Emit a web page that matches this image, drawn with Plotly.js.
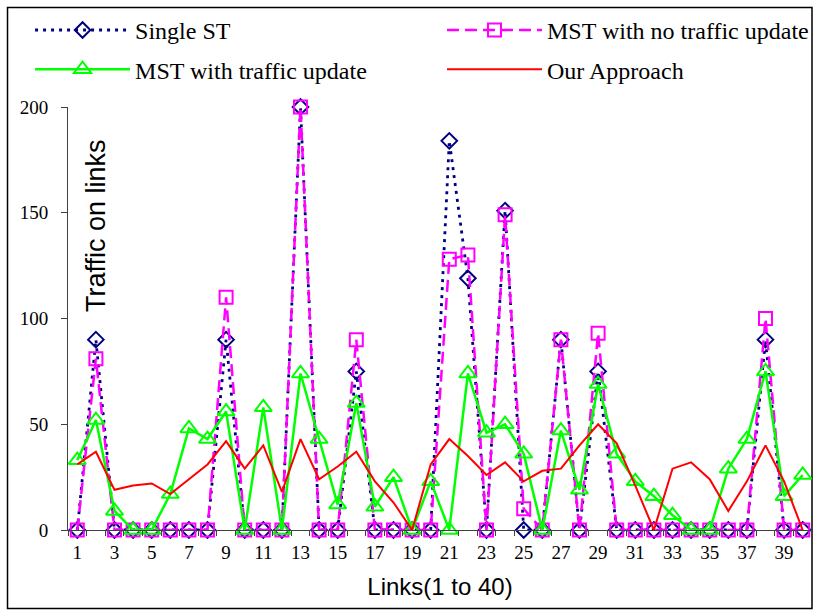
<!DOCTYPE html>
<html><head><meta charset="utf-8">
<script src="https://cdn.plot.ly/plotly-3.0.1.min.js"></script>
<style>html,body{margin:0;padding:0;background:#fff}</style>
</head><body><div id="chart" style="width:822px;height:610px"></div>
<script>
const links = [1,2,3,4,5,6,7,8,9,10,11,12,13,14,15,16,17,18,19,20,21,22,23,24,25,26,27,28,29,30,31,32,33,34,35,36,37,38,39,40];
const singleST = [0,90,0,0,0,0,0,0,90,0,0,0,200,0,0,75,0,0,0,0,184,119,0,151,0,0,90,0,75,0,0,0,0,0,0,0,0,90,0,0];
const mstNoUpdate = [0,81,0,0,0,0,0,0,110,0,0,0,200,0,0,90,0,0,0,0,128,130,0,149,10,0,90,0,93,0,0,0,0,0,0,0,0,100,0,0];
const mstUpdate = [33,52,9,0,0,17,48,43,56,0,58,0,74,43,12,60,11,25,0,23,0,74,46,50,36,0,47,19,69,36,23,16,7,0,0,29,43,75,16,26];
const ourApproach = [31,37,19,21,22,17,24,31,42,29,40,18,43,24,30,37,23,13,0,31,43,35,26,32,23,28,29,40,50,41,21,0,29,32,24,9,23,40,23,0];
const xTickVals = [1,3,5,7,9,11,13,15,17,19,21,23,25,27,29,31,33,35,37,39];
const xTickText = ['1','3','5','7','9','11','13','15','17','19','21','23','25','27','29','31','33','35','37','39'];
const yTickVals = [0,50,100,150,200];
const yTickText = ['0','50','100','150','200'];

const traces = [
  {x: links, y: singleST, name: 'Single ST', type: 'scatter', mode: 'lines+markers',
   legend: 'legend', legendgroup: 'g1',
   line: {color: '#000080', width: 2.8, dash: '3px,5px'},
   marker: {symbol: 'diamond-open', size: 12, color: '#000080', line: {width: 2, color: '#000080'}}},
  {x: links, y: mstNoUpdate, name: 'MST with no traffic update', type: 'scatter', mode: 'lines+markers',
   legend: 'legend2', legendgroup: 'g2',
   line: {color: '#FF00FF', width: 2.5, dash: '12px,6px'},
   marker: {symbol: 'square-open', size: 13, color: '#FF00FF', line: {width: 2, color: '#FF00FF'}}},
  {x: links, y: mstUpdate, name: 'MST with traffic update', type: 'scatter', mode: 'lines+markers',
   legend: 'legend', legendgroup: 'g3',
   line: {color: '#00FF00', width: 2.5},
   marker: {symbol: 'triangle-up-open', size: 15, color: '#00FF00', line: {width: 2, color: '#00FF00'}}},
  {x: links, y: ourApproach, name: 'Our Approach', type: 'scatter', mode: 'lines',
   legend: 'legend2', legendgroup: 'g4',
   line: {color: '#FF0000', width: 2}}
];

const minorVals = links.map(v => v - 0.5).concat([40.5]);
const legendFont = {family: 'Liberation Serif', size: 24, color: '#000'};

const layout = {
  width: 822, height: 610,
  margin: {l: 68, r: 10, t: 107, b: 80, autoexpand: false},
  paper_bgcolor: '#fff', plot_bgcolor: '#fff',
  showlegend: true,
  legend: {orientation: 'v', x: -0.051, y: 1.2343, xanchor: 'left', yanchor: 'top',
    itemwidth: 95, tracegroupgap: 5, font: legendFont, bgcolor: 'rgba(0,0,0,0)'},
  legend2: {orientation: 'v', x: 0.5027, y: 1.2343, xanchor: 'left', yanchor: 'top',
    itemwidth: 95, tracegroupgap: 5, font: legendFont, bgcolor: 'rgba(0,0,0,0)'},
  xaxis: {range: [0.5, 40.5], tickmode: 'array', tickvals: xTickVals, ticktext: xTickText,
    ticks: 'outside', ticklen: 5, tickcolor: 'rgba(0,0,0,0)',
    minor: {tickmode: 'array', tickvals: minorVals, ticks: 'outside', ticklen: 5, tickcolor: '#404040', tickwidth: 1, showgrid: false},
    showline: true, linecolor: '#404040', linewidth: 1, showgrid: false, zeroline: false,
    tickfont: {family: 'Liberation Serif', size: 19, color: '#000'},
    title: {text: 'Links(1 to 40)', font: {family: 'Liberation Sans', size: 24, color: '#000'}, standoff: 16}},
  yaxis: {range: [0, 200], tickmode: 'array', tickvals: yTickVals, ticktext: yTickText,
    ticks: 'outside', ticklen: 6, tickcolor: '#404040', ticklabelstandoff: 9,
    showline: true, linecolor: '#404040', linewidth: 1, showgrid: false, zeroline: false,
    tickfont: {family: 'Liberation Serif', size: 19, color: '#000'}},
  annotations: [
    {text: 'Traffic on links', xref: 'paper', yref: 'paper', x: 0.0376, y: 0.721,
     textangle: -90, showarrow: false, xanchor: 'center', yanchor: 'middle',
     font: {family: 'Liberation Sans', size: 27, color: '#000'}}
  ],
  shapes: [
    {type: 'rect', xref: 'paper', yref: 'paper', x0: -0.0813, x1: 1.0, y0: -0.1856, y1: 1.2352,
     line: {color: '#000', width: 1.5}, fillcolor: 'rgba(0,0,0,0)', layer: 'below'}
  ]
};

Plotly.newPlot('chart', traces.map(t => Object.assign(t, {cliponaxis: false})), layout, {displayModeBar: false, staticPlot: true});
</script></body></html>
